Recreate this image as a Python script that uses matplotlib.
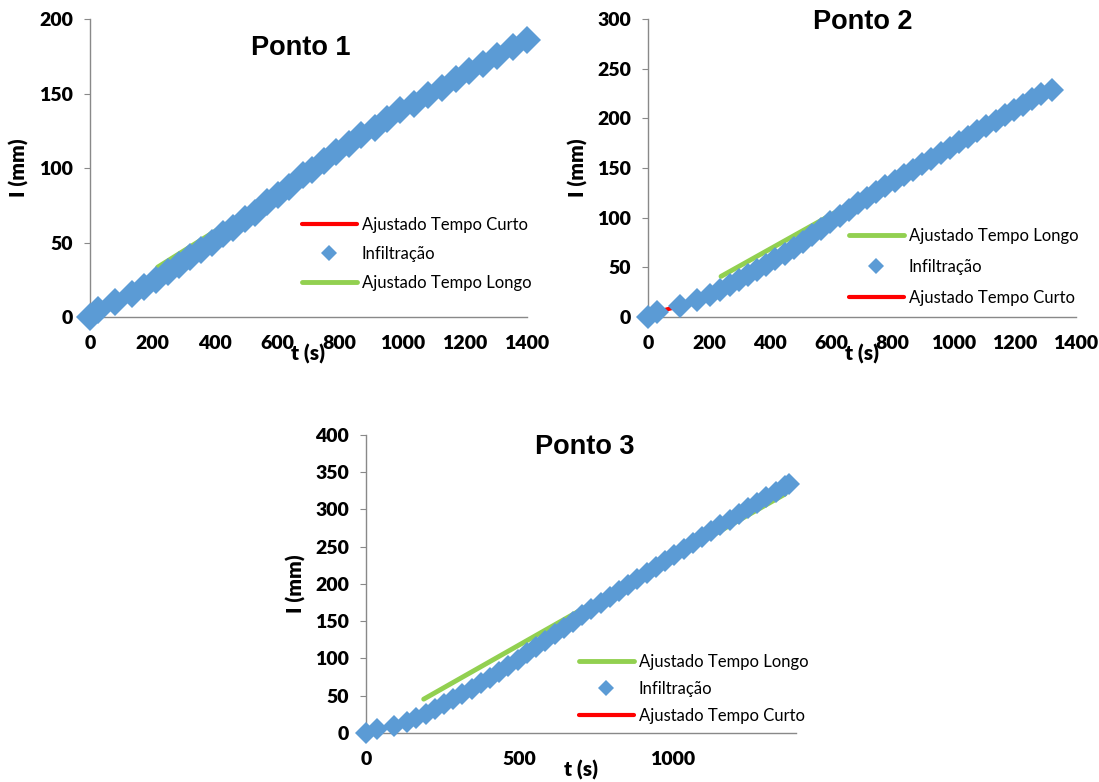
import matplotlib
matplotlib.use('Agg')
import matplotlib.pyplot as plt

plt.rcParams['font.family'] = ['Lato', 'DejaVu Sans']

BLUE = '#5B9BD5'
GREEN = '#92D050'
RED = '#FF0000'
AXIS = '#898989'

# Ponto 1
t1 = [0, 25, 81, 136, 172, 212, 249, 285, 319, 355, 392, 427, 457, 495, 528,
      568, 602, 638, 681, 710, 749, 789, 829, 868, 913, 953, 993, 1038, 1083,
      1128, 1174, 1213, 1258, 1304, 1355, 1400]
i1 = [0, 4.5, 10, 15.6, 20, 25, 30, 35, 40, 45, 50, 56, 60, 66, 70,
      77, 82, 87, 95, 99, 105, 111, 116, 122, 127, 133, 139, 143, 149,
      154, 160, 165, 170, 175, 181, 186]
t1_curto = [10, 60, 110, 160, 180]
i1_curto = [1.5, 7.2, 13.8, 19.9, 22.2]
t1_longo = [217, 1400]
i1_longo = [33.5, 188.5]

# Ponto 2
t2 = [0, 30, 104, 160, 202, 237, 267, 297, 327, 357, 387, 417, 447, 477, 507,
      537, 567, 597, 627, 657, 687, 717, 747, 777, 807, 837, 867, 897, 927,
      957, 987, 1017, 1047, 1077, 1107, 1137, 1167, 1197, 1227, 1257, 1287, 1321]
i2 = [0, 5, 10.7, 16.8, 21.8, 27.5, 32, 36.8, 41.8, 47, 52.4, 58, 63.8, 69.8, 76,
      82.4, 89, 95.6, 102, 108.2, 114.3, 120.2, 126, 131.7, 137.3, 142.9, 148.4,
      153.9, 159.4, 164.9, 170.4, 175.9, 181.4, 186.9, 192.3, 197.7, 203.1,
      208.5, 213.8, 219.1, 224.3, 229]
t2_curto = [30, 60, 90, 120, 150]
i2_curto = [4.5, 7.5, 10, 12, 14]
t2_longo = [239, 1321]
i2_longo = [40.9, 227]

# Ponto 3
t3 = [0, 36, 90, 132, 163, 194, 224, 254, 284, 314, 344, 374, 404, 434, 464,
      494, 524, 554, 584, 614, 644, 674, 704, 734, 764, 794, 824, 854, 884,
      914, 944, 974, 1004, 1034, 1064, 1094, 1124, 1154, 1184, 1214, 1244,
      1274, 1304, 1334, 1364, 1376]
i3 = [0, 5, 10, 15, 20, 26, 32, 38.5, 45, 52, 59, 66.5, 74, 82, 90,
      98.5, 107, 115.5, 124, 132.5, 141, 149.5, 158, 166.5, 174.5, 182.5, 190.5,
      198.5, 206.5, 214.5, 222.5, 230.5, 238.5, 246.5, 254.5, 262.5, 270.5,
      278.5, 286.5, 294, 301.5, 309, 316.5, 324, 331, 334]
t3_curto = [20, 60, 100, 140]
i3_curto = [3, 7, 11.5, 16]
t3_longo = [188, 1365]
i3_longo = [45.4, 320.7]

fig = plt.figure(figsize=(10.99, 7.82), dpi=100)
ax1 = fig.add_axes([0.0819, 0.5946, 0.3976, 0.3811])
ax2 = fig.add_axes([0.5896, 0.5946, 0.3894, 0.3811])
ax3 = fig.add_axes([0.3330, 0.0627, 0.3912, 0.3811])


def style(ax, ymax, xticks):
    ax.set_xlim(0, 1400)
    ax.set_ylim(0, ymax)
    ax.spines['top'].set_visible(False)
    ax.spines['right'].set_visible(False)
    for s in ('left', 'bottom'):
        ax.spines[s].set_color(AXIS)
        ax.spines[s].set_linewidth(1)
    ax.set_xticks(xticks)
    ax.set_yticks(range(0, ymax + 1, 50))
    ax.tick_params(axis='y', direction='out', length=4, color=AXIS, pad=8, labelsize=14)
    ax.tick_params(axis='x', length=0, pad=13, labelsize=14)
    for lab in ax.get_xticklabels() + ax.get_yticklabels():
        lab.set_fontweight('heavy')
    ax.set_xlabel('t (s)', fontsize=15, fontweight='heavy')
    ax.xaxis.set_label_coords(0.5, -0.09)
    ax.set_ylabel('I (mm)', fontsize=15, fontweight='heavy')
    ax.yaxis.set_label_coords(-0.14, 0.5)


def draw(ax, t, i, tc, ic, tl, il, ms):
    lc, = ax.plot(tc, ic, color=RED, lw=3, solid_capstyle='round',
                  label='Ajustado Tempo Curto', zorder=2)
    ll, = ax.plot(tl, il, color=GREEN, lw=3.5, solid_capstyle='round',
                  label='Ajustado Tempo Longo', zorder=2)
    pts, = ax.plot(t, i, ls='none', marker='D', ms=ms, color=BLUE, mec=BLUE,
                   mew=0, label='Infiltração', zorder=3, clip_on=False)
    return lc, pts, ll


def legend(ax, handles, x, y, spacing, scale):
    ax.legend(handles=handles, loc='center left', bbox_to_anchor=(x, y),
              frameon=False, fontsize=12, handlelength=3.3, handletextpad=0.3,
              labelspacing=spacing, borderpad=0, borderaxespad=0,
              markerscale=scale)


# Ponto 1
style(ax1, 200, [0, 200, 400, 600, 800, 1000, 1200, 1400])
lc, pts, ll = draw(ax1, t1, i1, t1_curto, i1_curto, t1_longo, i1_longo, 14)
legend(ax1, [lc, pts, ll], 0.485, 0.2125, 0.78, 0.6)
ax1.text(0.483, 0.902, 'Ponto 1', transform=ax1.transAxes, ha='center', va='center',
         fontsize=19.5, fontweight='bold', family='Liberation Sans')

# Ponto 2
style(ax2, 300, [0, 200, 400, 600, 800, 1000, 1200, 1400])
lc, pts, ll = draw(ax2, t2, i2, t2_curto, i2_curto, t2_longo, i2_longo, 12.5)
legend(ax2, [ll, pts, lc], 0.4686, 0.168, 0.9, 0.66)
ax2.text(0.502, 0.991, 'Ponto 2', transform=ax2.transAxes, ha='center', va='center',
         fontsize=19.5, fontweight='bold', family='Liberation Sans')

# Ponto 3
style(ax3, 400, [0, 500, 1000])
lc, pts, ll = draw(ax3, t3, i3, t3_curto, i3_curto, t3_longo, i3_longo, 11.5)
legend(ax3, [ll, pts, lc], 0.495, 0.147, 0.66, 0.7)
ax3.text(0.51, 0.961, 'Ponto 3', transform=ax3.transAxes, ha='center', va='center',
         fontsize=19.5, fontweight='bold', family='Liberation Sans')

fig.savefig('out.png', dpi=100)
